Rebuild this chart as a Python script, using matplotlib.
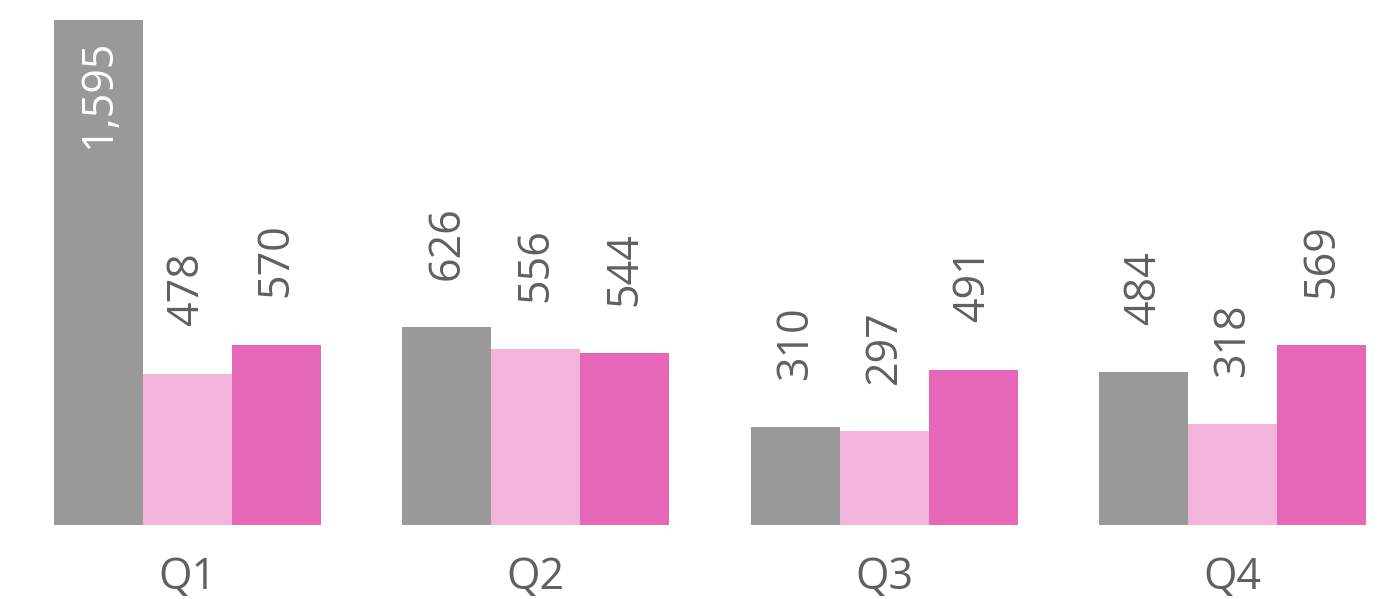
import matplotlib
matplotlib.use('Agg')
import matplotlib.pyplot as plt
import numpy as np

quarters = ['Q1', 'Q2', 'Q3', 'Q4']
series_a = [1595, 626, 310, 484]
series_b = [478, 556, 297, 318]
series_c = [570, 544, 491, 569]
colors = ['#999999', '#F1B4DA', '#E667B8']

plt.rcParams['font.family'] = ['Open Sans', 'DejaVu Sans']

fig = plt.figure(figsize=(13.79, 5.99), dpi=100)
ax = fig.add_axes([54 / 1379, 74 / 599, 1312 / 1379, 505 / 599])

pitch = 349 / 89.0
x = np.arange(len(quarters)) * pitch
for j, vals in enumerate([series_a, series_b, series_c]):
    xs = x + j
    ax.bar(xs, vals, width=1.0, align='edge', color=colors[j], linewidth=0)
    for xi, v in zip(xs, vals):
        txt = '{:,}'.format(v)
        if v > 1200:
            # too tall, put the label inside the bar
            ax.annotate(txt, (xi + 0.5, v), xytext=(0, -14), textcoords='offset points',
                        rotation=90, ha='center', va='top', color='white', fontsize=31)
        else:
            ax.annotate(txt, (xi + 0.5, v), xytext=(0, 34), textcoords='offset points',
                        rotation=90, ha='center', va='bottom', color='#606060', fontsize=31)

ax.set_xlim(0, x[-1] + 3)
ax.set_ylim(0, 1595)
ax.set_xticks(x + 1.5)
ax.set_xticklabels(quarters, fontsize=31, color='#606060')
ax.tick_params(axis='x', length=0, pad=22)
ax.set_yticks([])
for s in ax.spines.values():
    s.set_visible(False)

fig.savefig('out.png', dpi=100)
